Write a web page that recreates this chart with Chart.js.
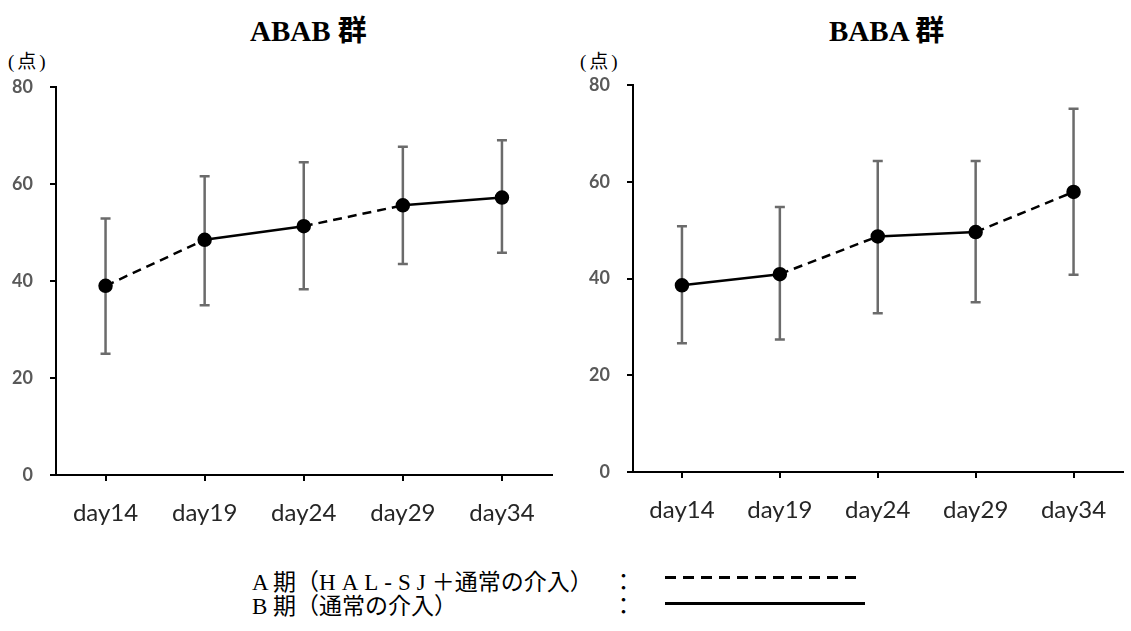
<!DOCTYPE html>
<html>
<head>
	<meta charset="utf-8">
	<script src="https://cdn.jsdelivr.net/npm/chart.js@4.4.1/dist/chart.umd.min.js"></script>
	<title>ABAB / BABA</title>
	<style>
		body { margin:0; width:1131px; height:631px; overflow:hidden; background:#fff; position:relative; font-family:"Liberation Serif","Noto Sans CJK JP",serif; }
		.box { position:absolute; top:0; }
		.title { position:absolute; top:7px; font-size:29px; font-weight:bold; color:#000; white-space:nowrap; }
		.unit { position:absolute; top:46px; font-size:19px; letter-spacing:3px; color:#000; }
		.leg { position:absolute; left:252px; font-size:23px; color:#000; white-space:nowrap; }
		.wide { letter-spacing:6px; }
		.colon { position:absolute; left:612px; font-size:23px; }
		.dash { position:absolute; left:665px; width:197px; height:3px; background:repeating-linear-gradient(to right,#000 0 11px,transparent 11px 18px); }
		.solid { position:absolute; left:665px; width:200px; height:3px; background:#000; }
	</style>
</head>
<body>
	<div class="title" style="left:250px">ABAB 群</div>
	<div class="title" style="left:829px">BABA 群</div>
	<div class="unit" style="left:8px">(点)</div>
	<div class="unit" style="left:580px">(点)</div>
	<div class="box" style="left:0px"><canvas id="abab" width="560" height="540"></canvas></div>
	<div class="box" style="left:560px"><canvas id="baba" width="571" height="540"></canvas></div>

	<div class="leg" style="top:563px">A 期（<span class="wide">HAL-SJ</span>＋通常の介入）</div>
	<div class="colon" style="top:563px">：</div>
	<div class="dash" style="top:576px"></div>
	<div class="leg" style="top:587px">B 期（通常の介入）</div>
	<div class="colon" style="top:587px">：</div>
	<div class="solid" style="top:602px"></div>
<script type="text/javascript">
	const days=['day14','day19','day24','day29','day34'];

	const ababMean=[39.0,48.5,51.3,55.6,57.2];
	const ababUpper=[52.9,61.6,64.5,67.7,69.0];
	const ababLower=[25.0,35.0,38.3,43.5,45.8];
	const ababPhase=['A','B','A','B'];

	const babaMean=[38.6,40.9,48.7,49.6,57.9];
	const babaUpper=[50.8,54.8,64.3,64.3,75.1];
	const babaLower=[26.6,27.4,32.8,35.1,40.8];
	const babaPhase=['B','A','B','A'];

	const yMax=80;
	const yStep=20;

	// error bars drawn from the chart's own scales
	const errorBars={
		id:'errorBars',
		beforeDatasetsDraw(chart,args,opts)
		{
			const ctx=chart.ctx;
			const xs=chart.scales.x;
			const ys=chart.scales.y;
			ctx.save();
			ctx.strokeStyle='#6b6b6b';
			ctx.lineWidth=2.5;
			for(let i=0;i<opts.upper.length;i++)
			{
				const x=xs.getPixelForValue(i);
				const yt=ys.getPixelForValue(opts.upper[i]);
				const yb=ys.getPixelForValue(opts.lower[i]);
				ctx.beginPath();
				ctx.moveTo(x,yt); ctx.lineTo(x,yb);
				ctx.moveTo(x-5,yt); ctx.lineTo(x+5,yt);
				ctx.moveTo(x-5,yb); ctx.lineTo(x+5,yb);
				ctx.stroke();
			}
			ctx.restore();
		}
	};

	function makeChart(id,mean,upper,lower,phase,yWidth,top,xHeight)
	{
		const ctx=document.getElementById(id).getContext('2d');
		return new Chart(ctx,{
			type:'line',
			data:{
				labels:days,
				datasets:[{
					data:mean,
					borderColor:'#000',
					borderWidth:2.5,
					pointRadius:6,
					pointBackgroundColor:'#000',
					pointBorderColor:'#000',
					tension:0,
					segment:{
						borderDash:c=>phase[c.p0DataIndex]==='A'?[9,6]:undefined
					}
				}]
			},
			options:{
				responsive:false,
				animation:false,
				layout:{padding:{top:top,left:0,right:4,bottom:0}},
				plugins:{
					legend:{display:false},
					tooltip:{enabled:false},
					errorBars:{upper:upper,lower:lower}
				},
				scales:{
					x:{
						offset:true,
						grid:{offset:false,drawOnChartArea:false,color:'#000',lineWidth:2,tickLength:6},
						border:{color:'#000',width:2},
						ticks:{color:'#262626',padding:18,font:{family:'Lato',size:24}},
						afterFit:s=>{s.height=xHeight;}
					},
					y:{
						min:0,
						max:yMax,
						grid:{drawOnChartArea:false,color:'#000',lineWidth:2,tickLength:6},
						border:{color:'#000',width:2},
						ticks:{stepSize:yStep,color:'#595959',padding:17,font:{family:'Lato',size:18,weight:'bold'}},
						afterFit:s=>{s.width=yWidth;}
					}
				}
			},
			plugins:[errorBars]
		});
	}

	makeChart('abab',ababMean,ababUpper,ababLower,ababPhase,56,87,65);
	makeChart('baba',babaMean,babaUpper,babaLower,babaPhase,73,85,68);
</script>
</body>
</html>
